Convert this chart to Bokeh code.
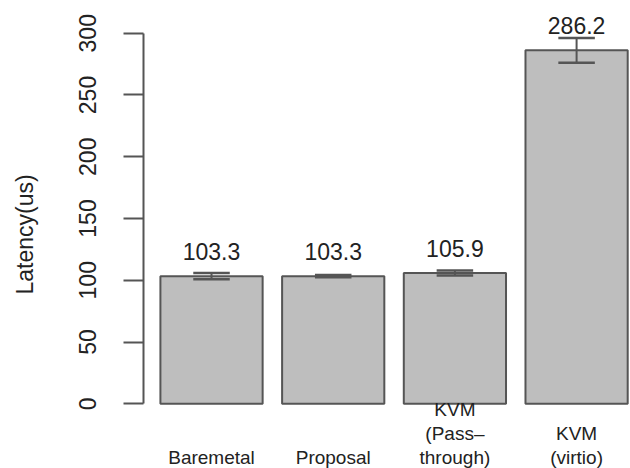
from bokeh.plotting import figure
from bokeh.models import ColumnDataSource, Range1d, FixedTicker
from bokeh.core.properties import value
from bokeh.embed import file_html
from bokeh.resources import INLINE

categories = ["Baremetal", "Proposal", "KVM\n(Pass\u2013\nthrough)", "KVM\n(virtio)"]
latency = [103.3, 103.3, 105.9, 286.2]
err = [2.5, 0.9, 2.0, 10.0]
y_ticks = [0, 50, 100, 150, 200, 250, 300]

xs = [i + 1 for i in range(len(categories))]
FONT = value("Liberation Sans")
TXT = "#222222"
LINE = "#555555"

src = ColumnDataSource(dict(
    x=xs, top=latency,
    lo=[v - e for v, e in zip(latency, err)],
    hi=[v + e for v, e in zip(latency, err)],
    x0=[x - 0.15 for x in xs], x1=[x + 0.15 for x in xs],
    lab=[f"{v:.1f}" for v in latency],
    laby=[v + 20 for v in latency],
    cat=categories,
    caty=[-52.0] * len(xs),
))

p = figure(width=630, height=468, output_backend="svg", toolbar_location=None,
           x_range=Range1d(0.441, 4.443), y_range=Range1d(-52.4, 326.5),
           min_border_left=143, min_border_right=0, min_border_top=0, min_border_bottom=0,
           x_axis_location=None)
p.outline_line_color = None
p.xgrid.visible = False
p.ygrid.visible = False
p.background_fill_color = "white"
p.border_fill_color = "white"

p.vbar(x="x", top="top", bottom=0, width=0.84, source=src,
       fill_color="#bebebe", line_color=LINE, line_width=2)

p.segment(x0="x", y0="lo", x1="x", y1="hi", source=src, line_color=LINE, line_width=2)
p.segment(x0="x0", y0="hi", x1="x1", y1="hi", source=src, line_color=LINE, line_width=2.5)
p.segment(x0="x0", y0="lo", x1="x1", y1="lo", source=src, line_color=LINE, line_width=2.5)

p.text(x="x", y="laby", text="lab", source=src, text_align="center", text_baseline="middle",
       text_font=FONT, text_font_size="23px", text_color=TXT)
p.text(x="x", y="caty", text="cat", source=src, text_align="center", text_baseline="bottom",
       text_font=FONT, text_font_size="19px", text_color=TXT, text_line_height=1.15)

ax = p.yaxis[0]
ax.ticker = FixedTicker(ticks=y_ticks)
ax.bounds = (0, 300)
ax.minor_tick_line_color = None
ax.major_tick_out = 20
ax.major_tick_in = 0
ax.axis_line_color = LINE
ax.axis_line_width = 2
ax.major_tick_line_color = LINE
ax.major_tick_line_width = 2
ax.major_label_orientation = "vertical"
ax.major_label_standoff = 27
ax.major_label_text_font = "Liberation Sans"
ax.major_label_text_font_size = "23px"
ax.major_label_text_color = TXT
ax.axis_label = "Latency(us)"
ax.axis_label_standoff = 39
ax.axis_label_text_font = "Liberation Sans"
ax.axis_label_text_font_size = "23px"
ax.axis_label_text_font_style = "normal"
ax.axis_label_text_color = TXT

open("out.html", "w").write(file_html(p, INLINE))
